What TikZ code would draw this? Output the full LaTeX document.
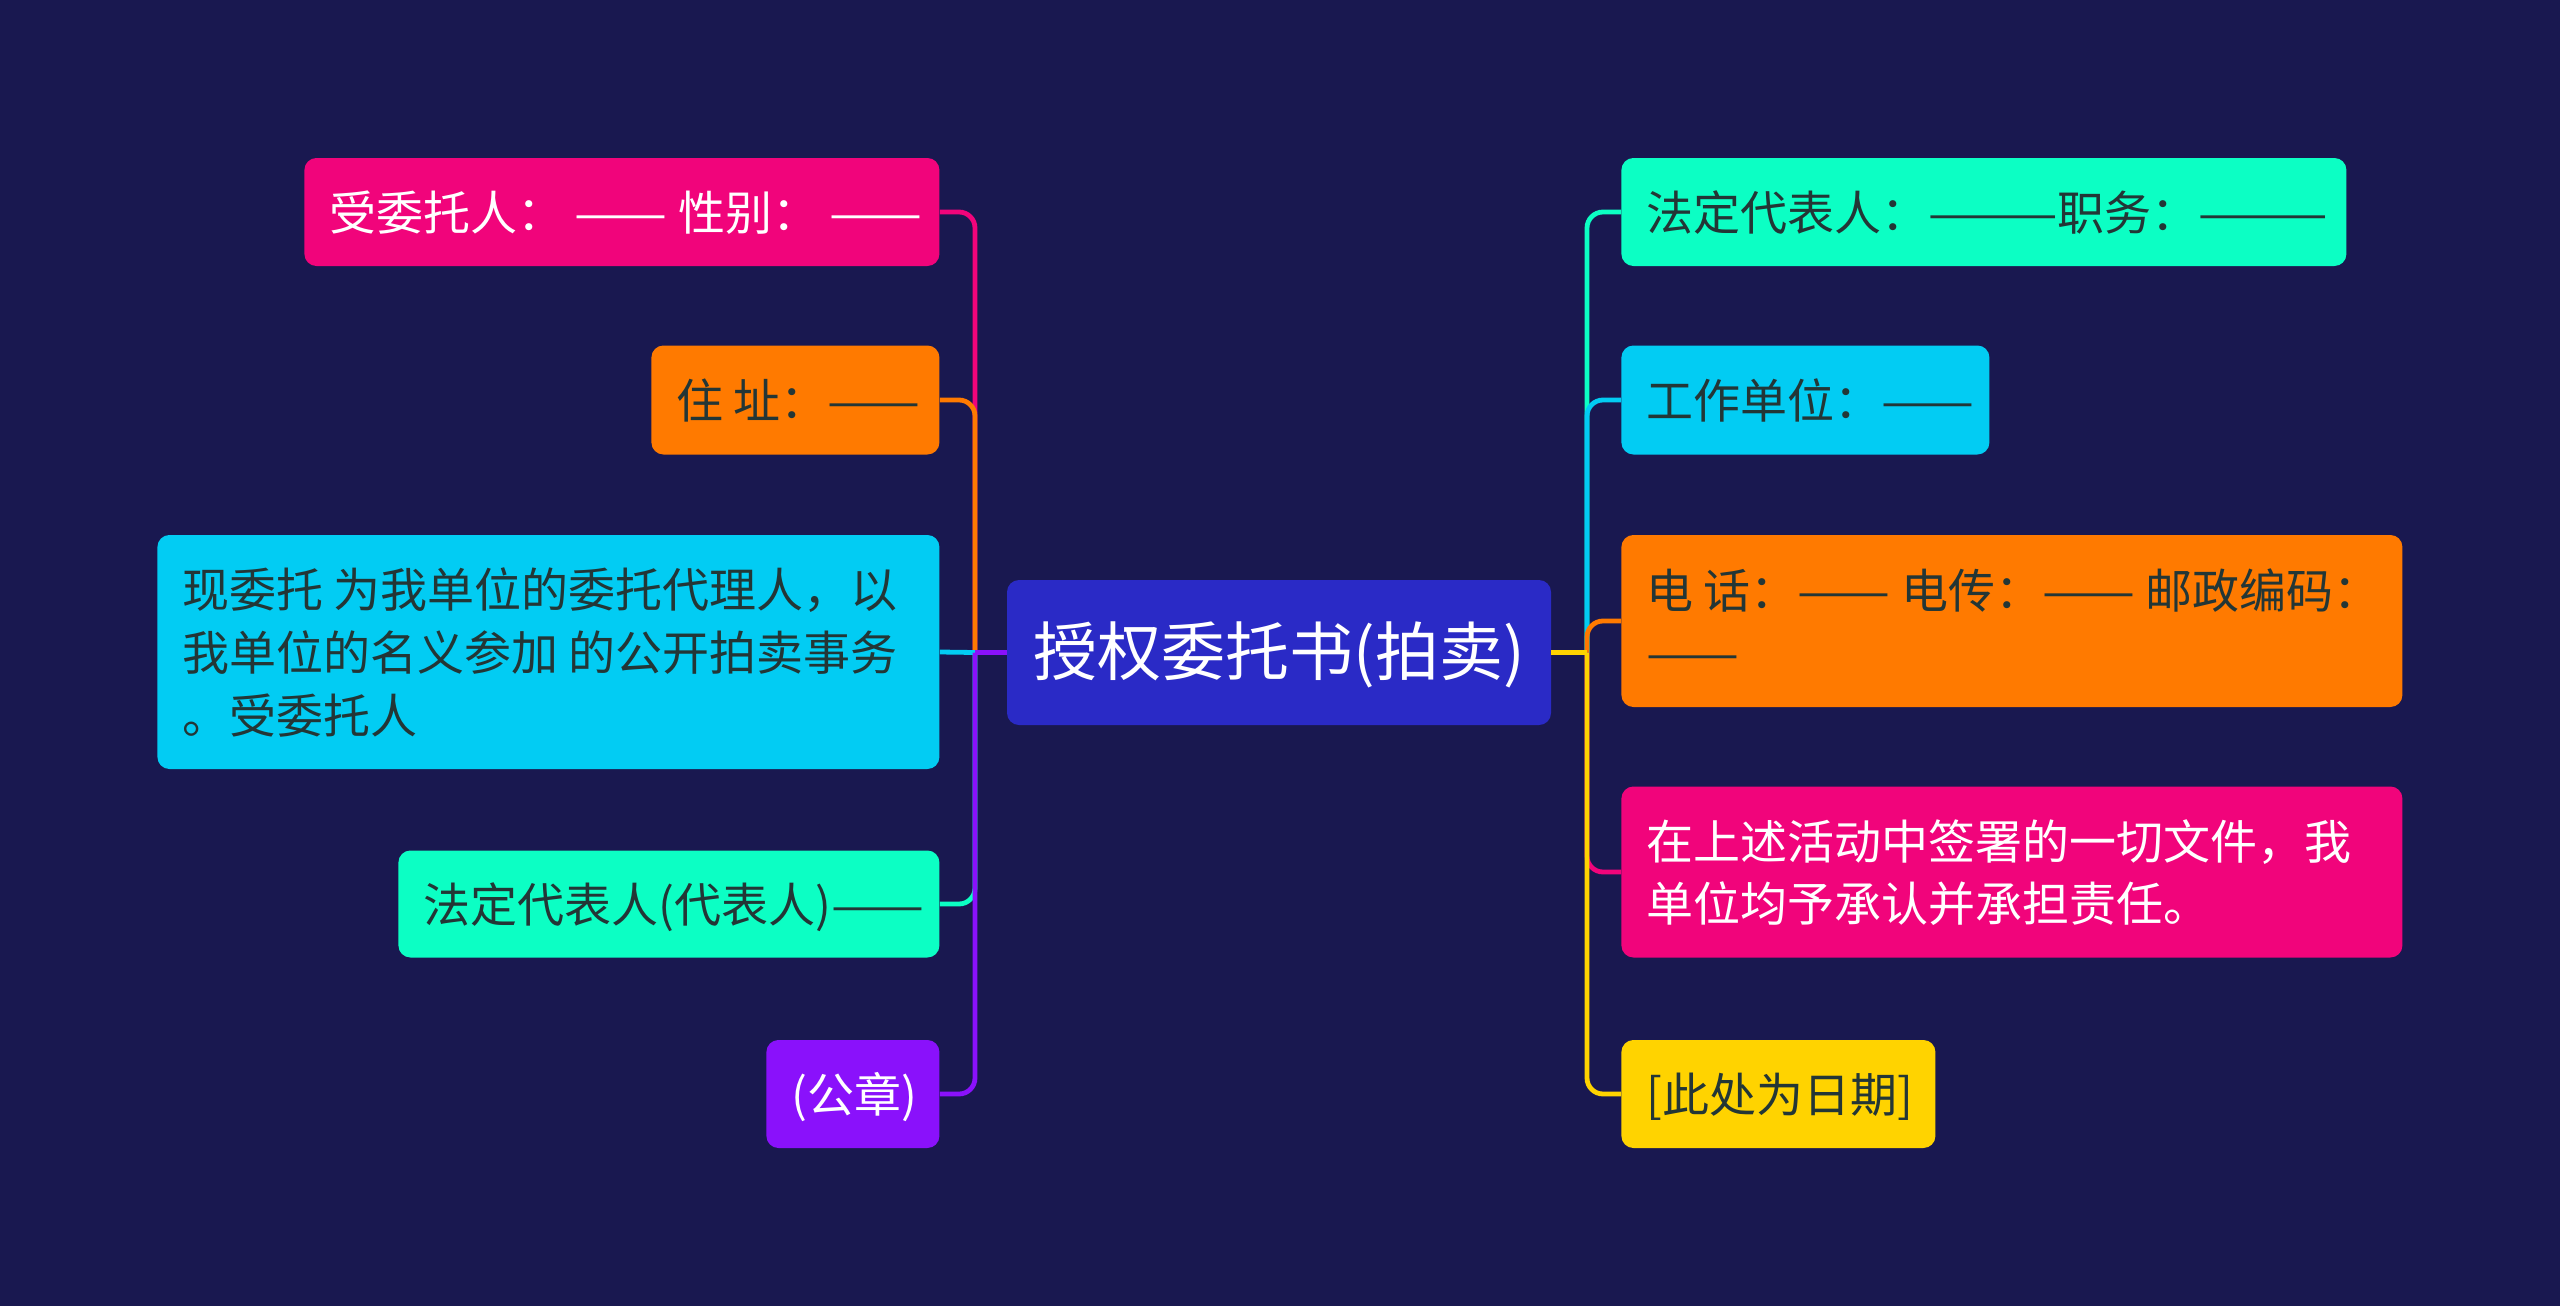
\documentclass[tikz,border=0pt]{standalone}
\usepackage{fontspec}
\usepackage{graphicx}
\newfontfamily\cjk{Noto Sans CJK SC}
\definecolor{bgc}{HTML}{191850}
\definecolor{centerc}{HTML}{2A2AC6}
\definecolor{pinkc}{HTML}{F1047B}
\definecolor{orangec}{HTML}{FF7A00}
\definecolor{bluec}{HTML}{02CCF3}
\definecolor{mintc}{HTML}{0CFFC4}
\definecolor{purplec}{HTML}{8A11FB}
\definecolor{yellowc}{HTML}{FFD300}
\definecolor{darktext}{HTML}{233636}
\newcommand{\boxtext}[2]{\makebox[#1][l]{\raisebox{-3pt}[\height][\depth]{\begin{tabular}{@{}l@{}}#2\end{tabular}}}}
\newcommand{\dashes}[2][1.18]{\scalebox{#1}[1]{#2}}
\tikzset{
  box/.style={rounded corners=6pt, inner xsep=12.5pt, inner ysep=0pt, anchor=west,
    font=\cjk\fontsize{23.5}{31.3}\selectfont},
  darkbox/.style={box, text=darktext},
  lightbox/.style={box, text=white},
  conn/.style={line width=2.4pt, rounded corners=8pt}
}
\begin{document}
\begin{tikzpicture}[x=0.5pt,y=-0.5pt]
\fill[bgc] (0,0) rectangle (2560,1306);
\useasboundingbox (0,0) rectangle (2560,1306);

% center
\node[fill=centerc, rounded corners=6pt, minimum width=272pt, minimum height=72.5pt,
  text=white, font=\cjk\fontsize{32}{38}\selectfont] (C) at (1279,652.5) {\raisebox{-1pt}[\height][\depth]{授权委托书(拍卖)}};

% left nodes
\node[lightbox, fill=pinkc, minimum height=54pt] (L1) at (304,212)
  {\boxtext{292.5pt}{受委托人： \dashes{——} 性别： \dashes{——}}};
\node[darkbox, fill=orangec, minimum height=54.5pt] (L2) at (651,400)
  {\boxtext{119pt}{住 址：\dashes{——}}};
\node[darkbox, fill=bluec, minimum height=117pt] (L3) at (157,652)
  {\boxtext{366pt}{现委托 为我单位的委托代理人，以\\我单位的名义参加 的公开拍卖事务\\。受委托人}};
\node[darkbox, fill=mintc, minimum height=53.5pt] (L4) at (398,904)
  {\boxtext{245.5pt}{法定代表人(代表人)\dashes{——}}};
\node[lightbox, fill=purplec, minimum height=54pt] (L5) at (766,1094)
  {\boxtext{61.5pt}{(公章)}};

% right nodes
\node[darkbox, fill=mintc, minimum height=54pt] (R1) at (1621,212)
  {\boxtext{337.5pt}{法定代表人：\dashes[1.12]{———}职务：\dashes[1.12]{———}}};
\node[darkbox, fill=bluec, minimum height=54.5pt] (R2) at (1621,400)
  {\boxtext{159pt}{工作单位：\dashes{——}}};
\node[darkbox, fill=orangec, minimum height=86pt] (R3) at (1621,621)
  {\boxtext{365.5pt}{电 话：\dashes{——} 电传：\dashes{——} 邮政编码：\\\dashes{——}}};
\node[lightbox, fill=pinkc, minimum height=85.5pt] (R4) at (1621,872)
  {\boxtext{365.5pt}{在上述活动中签署的一切文件，我\\单位均予承认并承担责任。}};
\node[darkbox, fill=yellowc, minimum height=54pt] (R5) at (1621,1094)
  {\boxtext{132pt}{[此处为日期]}};

% trunks
\coordinate (TL) at (975,652.5);
\coordinate (TR) at (1587,652.5);

% left connectors
\draw[conn, pinkc] (TL) |- (L1.east);
\draw[conn, orangec] (TL) |- (L2.east);
\draw[conn, bluec] (TL) -- (L3.east);
\draw[conn, mintc] (TL) |- (L4.east);
\draw[conn, purplec] (TL) |- (L5.east);
\draw[conn, purplec] (C.west) -- (TL);

% right connectors
\draw[conn, mintc] (TR) |- (R1.west);
\draw[conn, bluec] (TR) |- (R2.west);
\draw[conn, orangec] (TR) |- (R3.west);
\draw[conn, pinkc] (TR) |- (R4.west);
\draw[conn, yellowc] (TR) |- (R5.west);
\draw[conn, yellowc] (C.east) -- (TR);
\end{tikzpicture}
\end{document}
